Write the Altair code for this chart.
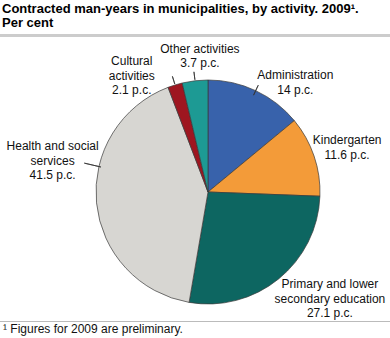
import altair as alt
import pandas as pd

categories = ["Administration", "Kindergarten", "Primary and lower secondary education",
              "Health and social services", "Cultural activities", "Other activities"]
name_lines = [["Administration"], ["Kindergarten"], ["Primary and lower", "secondary education"],
              ["Health and social", "services"], ["Cultural", "activities"], ["Other activities"]]
values = [14, 11.6, 27.1, 41.5, 2.1, 3.7]
colors = ["#3862ab", "#f39b39", "#0d6661", "#d7d6d2", "#9e1620", "#1d9a94"]

title_lines = ["Contracted man-years in municipalities, by activity. 2009\u00b9.", "Per cent"]
footnote = "\u00b9 Figures for 2009 are preliminary."

labels = ["\n".join(n + [f"{v:g} p.c."]) for n, v in zip(name_lines, values)]
n_lines = {c: len(n) + 1 for c, n in zip(categories, name_lines)}
df = pd.DataFrame({"category": categories, "value": values, "order": list(range(len(values))),
                   "label": labels})

W, H = 390, 338
CX, CY, R = 208, 192, 112
FONT = "Liberation Sans"
LH = 14.5
theta_scale = alt.Scale(domain=[0, 100])

base = alt.Chart(df).transform_window(
    cum="sum(value)", sort=[{"field": "order"}], frame=[None, 0]
).transform_calculate(mid="datum.cum - datum.value / 2")

pie = alt.Chart(df).mark_arc(outerRadius=R, stroke="#3a3a3a", strokeWidth=0.7).encode(
    theta=alt.Theta("value:Q", stack=True, scale=theta_scale),
    color=alt.Color("category:N", scale=alt.Scale(domain=categories, range=colors), legend=None),
    order=alt.Order("order:Q"),
    x=alt.value(CX), y=alt.value(CY),
)

# label layout: (dx, dy) of the block centre relative to polar point at radius 130 on slice middle
label_layout = {
    "Administration": (32, 8),
    "Kindergarten": (16, -3),
    "Primary and lower secondary education": (40, 6),
    "Health and social services": (-26, -44),
    "Cultural activities": (-38, 8),
    "Other activities": (7, -7),
}
# leader: (angle offset in percent, inner radius, outer radius)
leader_layout = {
    "Administration": (0, 107, 118),
    "Health and social services": (5.2, 110, 127),
    "Cultural activities": (0, 113, 121),
    "Other activities": (0, 113, 121),
}

layers = [pie]
for cat, (dx, dy) in label_layout.items():
    dy_first = dy - (n_lines[cat] - 1) * LH / 2
    layers.append(
        base.transform_filter(alt.datum.category == cat).mark_text(
            font=FONT, fontSize=12, lineBreak="\n", lineHeight=LH, align="center",
            baseline="middle", color="#111", dx=dx, dy=dy_first,
        ).encode(
            theta=alt.Theta("mid:Q", scale=theta_scale), radius=alt.value(130),
            text="label:N", x=alt.value(CX), y=alt.value(CY),
        )
    )
for cat, (off, r1, r2) in leader_layout.items():
    layers.append(
        base.transform_filter(alt.datum.category == cat).transform_calculate(
            lt=f"datum.mid + {off}"
        ).mark_arc(innerRadius=r1, outerRadius=r2, stroke="#333", strokeWidth=0.8,
                   fill="transparent").encode(
            theta=alt.Theta("lt:Q", scale=theta_scale), theta2="lt:Q",
            x=alt.value(CX), y=alt.value(CY),
        )
    )

tdf = pd.DataFrame({"t": title_lines})
title_layers = []
for i, ty in enumerate([13, 27]):
    title_layers.append(
        alt.Chart(tdf.iloc[[i]]).mark_text(font=FONT, fontSize=13, fontWeight="bold", align="left",
                                           baseline="alphabetic", color="#000").encode(
            text="t:N", x=alt.value(2), y=alt.value(ty))
    )
title_rule = alt.Chart(tdf.head(1)).mark_rule(color="#cccccc", strokeWidth=3).encode(
    x=alt.value(0), x2=alt.value(W), y=alt.value(35.5))
foot_rule = alt.Chart(tdf.head(1)).mark_rule(color="#bbbbbb", strokeWidth=1).encode(
    x=alt.value(0), x2=alt.value(W), y=alt.value(321.5))
foot = alt.Chart(pd.DataFrame({"t": [footnote]})).mark_text(
    font=FONT, fontSize=12, align="left", baseline="alphabetic", color="#111").encode(
    text="t:N", x=alt.value(3), y=alt.value(333))

chart = alt.layer(*layers, *title_layers, title_rule, foot_rule, foot).properties(
    width=W, height=H, padding=0, autosize=alt.AutoSizeParams(type="none")
).configure_view(stroke=None)

chart.save("out.html", embed_options={"renderer": "svg", "actions": False})
